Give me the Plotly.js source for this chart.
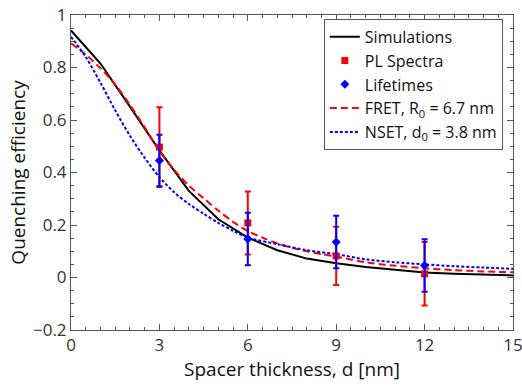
<!DOCTYPE html>
<html>
<head>
<meta charset="utf-8">
<script src="https://cdn.plot.ly/plotly-3.0.1.min.js"></script>
<style>html,body{margin:0;padding:0;background:#fff;}#chart{width:522px;height:386px;}</style>
</head>
<body>
<div id="chart"></div>
<script>
// Simulations (solid black), sampled each 1 nm
const simD = [0,1,2,3,4,5,6,7,8,9,10,11,12,13,14,15];
const simQ = [0.941,0.815,0.651,0.484,0.330,0.222,0.152,0.104,0.072,0.054,0.040,0.029,0.019,0.014,0.011,0.008];

// FRET fit (red dashed)
const fretD = [0,0.5,1,1.5,2,2.5,3,3.5,4,4.5,5,5.5,6,6.5,7,7.5,8,8.5,9,10,11,12,13,14,15];
const fretQ = [0.892,0.849,0.797,0.735,0.658,0.572,0.482,0.410,0.350,0.302,0.255,0.212,0.177,0.152,0.130,0.113,0.100,0.089,0.080,0.058,0.045,0.035,0.028,0.023,0.020];

// NSET fit (blue dotted)
const nsetD = [0,0.5,1,1.5,2,2.5,3,3.5,4,4.5,5,5.5,6,7,8,9,10,11,12,13,14,15];
const nsetQ = [0.917,0.840,0.742,0.637,0.540,0.456,0.382,0.325,0.280,0.243,0.208,0.178,0.152,0.127,0.104,0.089,0.069,0.058,0.050,0.043,0.038,0.033];

// Measurements
const measD = [3,6,9,12];
const plQ = [0.497,0.208,0.082,0.014];
const plErr = [0.152,0.120,0.111,0.121];
const ltQ = [0.446,0.147,0.135,0.046];
const ltErr = [0.098,0.100,0.100,0.100];

const xTicks = [0,3,6,9,12,15];
const yTicks = [-0.2,0,0.2,0.4,0.6,0.8,1];

const FONT = 'Open Sans, Noto Sans, sans-serif';

const traces = [
  {x: simD, y: simQ, mode: 'lines', name: 'Simulations', legendrank: 1,
   line: {color: '#000000', width: 2}},
  {x: fretD, y: fretQ, mode: 'lines', name: 'FRET, R<sub>0</sub> = 6.7 nm', legendrank: 4,
   line: {color: '#ff0000', width: 2, dash: '7px,4px', shape: 'spline', smoothing: 0.8}},
  {x: nsetD, y: nsetQ, mode: 'lines', name: 'NSET, d<sub>0</sub> = 3.8 nm', legendrank: 5,
   line: {color: '#0000ff', width: 2, dash: '3px,2px', shape: 'spline', smoothing: 0.8}},
  {x: measD, y: plQ, mode: 'markers', name: 'PL Spectra', legendrank: 2,
   marker: {symbol: 'square', size: 7, color: '#ff0000'},
   error_y: {type: 'data', array: plErr, visible: true, color: '#ff0000', thickness: 2, width: 3}},
  {x: measD, y: ltQ, mode: 'markers', name: 'Lifetimes', legendrank: 3,
   marker: {symbol: 'diamond', size: 7, color: '#0000ff'},
   error_y: {type: 'data', array: ltErr, visible: true, color: '#0000ff', thickness: 2, width: 3}}
];

const axisCommon = {
  showline: true, mirror: 'ticks', linecolor: '#555', linewidth: 1,
  ticks: 'inside', ticklen: 6, tickcolor: '#555', tickwidth: 1,
  showgrid: false, zeroline: false, ticklabeloverflow: 'allow',
  tickfont: {family: FONT, size: 17, color: '#333'}
};

const layout = {
  width: 522, height: 386,
  margin: {l: 71, r: 9, t: 15, b: 56},
  paper_bgcolor: '#fff', plot_bgcolor: '#fff',
  showlegend: true,
  font: {family: FONT, color: '#000'},
  xaxis: Object.assign({}, axisCommon, {
    range: [0, 15], tickmode: 'array', tickvals: xTicks, ticktext: xTicks.map(String),
    minor: {ticks: 'inside', dtick: 0.5, ticklen: 3, tickcolor: '#555', showgrid: false},
    title: {text: 'Spacer thickness, d [nm]', font: {family: FONT, size: 19, color: '#111'}, standoff: 6}
  }),
  yaxis: Object.assign({}, axisCommon, {
    range: [-0.2, 1], tickmode: 'array', tickvals: yTicks,
    ticktext: yTicks.map(v => v < 0 ? '\u2212' + String(-v) : String(v)),
    minor: {ticks: 'inside', dtick: 0.05, ticklen: 3, tickcolor: '#555', showgrid: false},
    title: {text: 'Quenching efficiency', font: {family: FONT, size: 19, color: '#111'}, standoff: 2}
  }),
  legend: {
    x: 0.977, xanchor: 'right', y: 0.988, yanchor: 'top',
    bgcolor: '#fff', bordercolor: '#555', borderwidth: 1,
    font: {family: FONT, size: 16, color: '#111'},
    tracegroupgap: 0
  }
};

Plotly.newPlot('chart', traces, layout, {displayModeBar: false, staticPlot: true});
</script>
</body>
</html>
